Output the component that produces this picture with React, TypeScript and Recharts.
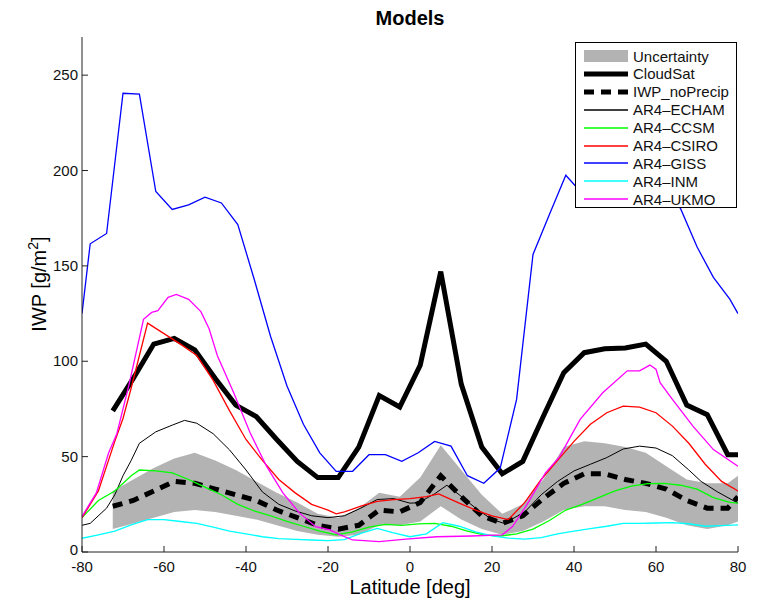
import React from "react";
import { Area, ComposedChart, Line, XAxis, YAxis } from "recharts";

// CloudSat 5-degree latitude bins (+ edge point at 80)
const binLat = [-72.5, -67.5, -62.5, -57.5, -52.5, -47.5, -42.5, -37.5, -32.5, -27.5, -22.5, -17.5, -12.5, -7.5, -2.5, 2.5, 7.5, 12.5, 17.5, 22.5, 27.5, 32.5, 37.5, 42.5, 47.5, 52.5, 57.5, 62.5, 67.5, 72.5, 77.5, 80];
const cloudSat = [74, 91, 109, 112, 106, 91, 77, 71, 59, 47.5, 39, 39, 55, 82, 76, 98, 147, 88, 55, 41, 47.5, 71, 94, 104.5, 106.5, 107, 109, 100, 77, 72, 51, 51];
const noPrecip = [24, 27, 32, 37, 36, 33, 30, 27, 22, 18, 14, 12, 14, 22, 21, 26, 40, 29, 19, 15, 19, 28, 36, 41, 41, 38, 36, 33, 27, 23, 23, 29];
const bandLo = [12, 15, 18, 21, 22, 21, 19, 17, 14, 11, 9, 8, 9, 14, 14, 16, 24, 17, 12, 9, 11, 16, 22, 24, 24, 22, 21, 18, 14, 12, 14, 16];
const bandHi = [32, 38, 44, 49, 52, 48, 43, 37, 31, 26, 20, 18, 23, 31, 29, 39, 56, 43, 30, 20, 25, 38, 55, 58, 57, 55, 52, 45, 38, 36, 36, 40];

const echamLat = [-80, -78, -74, -72, -70, -68, -66, -62, -58, -55, -52, -48, -44, -40, -36, -32, -28, -24, -20, -16, -12, -8, -4, 0, 2, 6, 9, 12, 16, 20, 23, 28, 32, 36, 40, 44, 48, 52, 56, 60, 64, 68, 71, 75, 80];
const echamIwp = [14, 15, 23, 30, 40, 48, 57, 63, 66.5, 69, 67.5, 62, 53.5, 43, 31.5, 25, 21.5, 19, 18, 19, 23, 27.5, 28, 25.6, 25.8, 30.5, 35, 30, 23, 17, 15, 21, 30, 37, 42.5, 46, 49.5, 54, 55.5, 54.5, 50.5, 43, 37, 31.5, 25.6];

const ccsmLat = [-80, -76, -72, -68, -66, -62, -58, -54, -50, -46, -42, -38, -34, -30, -26, -22, -18, -14, -10, -6, -2, 2, 6, 10, 14, 18, 22, 26, 30, 34, 38, 42, 46, 50, 54, 58, 62, 66, 70, 74, 78, 80];
const ccsmIwp = [18, 27, 32, 40, 43, 42.5, 41.5, 38, 34, 30, 25, 21.5, 19, 16, 13.5, 11, 9, 10.5, 13, 14.5, 14, 14.7, 15, 13.5, 11, 9, 8.4, 9.5, 12, 16.5, 22, 25, 28.5, 32, 34.5, 35.8, 36, 35, 33, 28.5, 26, 25.6];

const csiroLat = [-80, -76, -74, -72, -70, -68, -64, -60, -56, -52, -48, -44, -40, -36, -32, -28, -24, -20, -18, -16, -12, -8, -4, 0, 4, 7, 12, 16, 20, 24, 28, 32, 36, 40, 44, 48, 52, 56, 60, 64, 68, 72, 76, 80];
const csiroIwp = [18, 32, 45, 58, 70, 86, 120, 114.5, 109, 103, 90, 74, 59, 48, 38, 31, 25, 22, 20, 21, 24, 26.5, 27.5, 28, 29, 30.5, 25.6, 22, 19, 17, 26, 38, 48, 58, 67, 73, 76.5, 76, 73, 66, 57, 46, 37, 32];

const gissLat = [-80, -78, -74, -70, -66, -62, -58, -54, -50, -46, -42, -38, -34, -30, -26, -22, -18, -14, -10, -6, -2, 2, 6, 10, 14, 18, 22, 26, 30, 34, 38, 42, 46, 50, 54, 58, 62, 66, 70, 74, 78, 80];
const gissIwp = [125, 161.6, 167, 240.5, 240, 189, 179.6, 182, 186, 183, 171.7, 143, 113, 87, 67, 52, 42.3, 42.3, 51, 51, 47.5, 52, 58, 55.5, 40, 36, 44, 80, 156, 177, 197.5, 188, 190, 195, 198, 195, 190, 180, 160, 144, 132.6, 125];

const inmLat = [-80, -76, -72, -68, -64, -60, -56, -52, -48, -44, -40, -36, -32, -28, -24, -20, -16, -12, -8, -4, 0, 4, 8, 12, 16, 20, 24, 28, 32, 36, 40, 44, 48, 52, 56, 60, 64, 68, 72, 76, 80];
const inmIwp = [7.2, 9, 11, 14.2, 17, 17, 16, 15, 13, 11, 9.5, 8, 7, 6.6, 6.3, 6, 6.5, 9.8, 12.4, 10, 8, 9.5, 15.4, 13.5, 10.5, 8.5, 7.3, 6.7, 7.5, 9.5, 11, 12.2, 13.5, 15, 15, 15.2, 15.4, 14.8, 13.5, 13.8, 14.2];

const ukmoLat = [-80, -76.5, -73.5, -71.5, -68.5, -65, -63, -61.5, -59, -57, -54, -51, -49, -47, -43, -39, -35, -31, -27, -23, -19.5, -17, -14, -7.5, -1, 6.5, 15, 22.5, 25, 28.5, 33, 36.5, 39, 41.5, 47, 53, 56, 58.5, 60, 61, 64, 69, 74, 80];
const ukmoIwp = [18.6, 31, 52, 62, 88, 122, 125.6, 126.5, 133.5, 135, 132.5, 126, 117, 103, 83.5, 62.5, 45, 31, 20.5, 13.3, 11.6, 9, 6.3, 5.4, 6.7, 8, 8.4, 9, 13.3, 24.7, 41.4, 50, 59.8, 69.5, 83.5, 95, 95, 98, 95.8, 88.8, 80, 66, 53.7, 45];

const xTicks = [-80, -60, -40, -20, 0, 20, 40, 60, 80];
const yTicks = [0, 50, 100, 150, 200, 250];

const pts = (lat: number[], v: number[]) => lat.map((l, i) => ({ lat: l, v: v[i] }));

const bandData = binLat.map((lat, i) => ({
  lat,
  range: [bandLo[i], bandHi[i]],
  cs: cloudSat[i],
  np: noPrecip[i],
}));

const models = [
  { name: "AR4\u2013ECHAM", color: "#000000", lat: echamLat, iwp: echamIwp, w: 1 },
  { name: "AR4\u2013CCSM", color: "#00ff00", lat: ccsmLat, iwp: ccsmIwp, w: 1.3 },
  { name: "AR4\u2013CSIRO", color: "#ff0000", lat: csiroLat, iwp: csiroIwp, w: 1.3 },
  { name: "AR4\u2013GISS", color: "#0000ff", lat: gissLat, iwp: gissIwp, w: 1.3 },
  { name: "AR4\u2013INM", color: "#00ffff", lat: inmLat, iwp: inmIwp, w: 1.3 },
  { name: "AR4\u2013UKMO", color: "#ff00ff", lat: ukmoLat, iwp: ukmoIwp, w: 1.3 },
];

const AX = "#222";
const TICK = 6;

const BottomTick = (p: any) => (
  <g>
    <line x1={p.x} y1={p.y} x2={p.x} y2={p.y - TICK} stroke={AX} />
    <text x={p.x} y={p.y + 20} textAnchor="middle" fontSize={15} fill="#111">
      {p.payload.value}
    </text>
  </g>
);
const LeftTick = (p: any) => (
  <g>
    <line x1={p.x} y1={p.y} x2={p.x + TICK} y2={p.y} stroke={AX} />
    <text x={p.x - 4} y={p.y + (p.payload.value === 0 ? 3 : 5)} textAnchor="end" fontSize={15} fill="#111">
      {p.payload.value}
    </text>
  </g>
);
const TopTick = (p: any) => <line x1={p.x} y1={p.y} x2={p.x} y2={p.y + TICK} stroke={AX} />;
const RightTick = (p: any) => <line x1={p.x} y1={p.y} x2={p.x - TICK} y2={p.y} stroke={AX} />;

const legendRows = [
  { name: "Uncertainty", kind: "patch" },
  { name: "CloudSat", kind: "thick" },
  { name: "IWP_noPrecip", kind: "dash" },
  ...models.map((m) => ({ name: m.name, kind: "line", color: m.color })),
];

function LegendBox() {
  return (
    <div
      style={{
        position: "absolute",
        left: 567,
        top: 34,
        width: 162,
        height: 166,
        boxSizing: "border-box",
        border: "1px solid #000",
        background: "#fff",
      }}
    >
      {legendRows.map((r: any, i) => (
        <div
          key={r.name}
          style={{ position: "absolute", left: 0, top: 4 + i * 17.9, height: 18, display: "flex", alignItems: "center" }}
        >
          <svg width={44} height={16} style={{ marginLeft: 8 }}>
            {r.kind === "patch" && <rect x={0} y={2} width={44} height={12} fill="#b3b3b3" />}
            {r.kind === "thick" && <line x1={0} y1={8} x2={44} y2={8} stroke="#000" strokeWidth={5} />}
            {r.kind === "dash" && (
              <line x1={0} y1={8} x2={44} y2={8} stroke="#000" strokeWidth={5} strokeDasharray="10 7" />
            )}
            {r.kind === "line" && <line x1={0} y1={8} x2={44} y2={8} stroke={r.color} strokeWidth={1.3} />}
          </svg>
          <span style={{ marginLeft: 5, fontSize: 15, color: "#111", whiteSpace: "nowrap" }}>{r.name}</span>
        </div>
      ))}
    </div>
  );
}

export default function App() {
  return (
    <div
      style={{
        position: "relative",
        width: 745,
        height: 590,
        fontFamily: "'Liberation Sans', Arial, sans-serif",
        background: "#fff",
      }}
    >
      <ComposedChart width={745} height={590} data={bandData} margin={{ top: 29, right: 15, bottom: 6, left: 14 }}>
        <XAxis
          dataKey="lat"
          type="number"
          domain={[-80, 80]}
          ticks={xTicks}
          interval={0}
          height={40}
          tickSize={0}
          tickMargin={0}
          tickLine={false}
          axisLine={{ stroke: AX }}
          tick={BottomTick}
          allowDataOverflow
        />
        <XAxis
          xAxisId="top"
          orientation="top"
          dataKey="lat"
          type="number"
          domain={[-80, 80]}
          ticks={xTicks}
          interval={0}
          height={0}
          tickSize={0}
          tickMargin={0}
          tickLine={false}
          axisLine={{ stroke: AX }}
          tick={TopTick}
          allowDataOverflow
        />
        <YAxis
          type="number"
          domain={[0, 270]}
          ticks={yTicks}
          interval={0}
          width={60}
          tickSize={0}
          tickMargin={0}
          tickLine={false}
          axisLine={{ stroke: AX }}
          tick={LeftTick}
          allowDataOverflow
        />
        <YAxis
          yAxisId="right"
          orientation="right"
          type="number"
          domain={[0, 270]}
          ticks={yTicks}
          interval={0}
          width={0}
          tickSize={0}
          tickMargin={0}
          tickLine={false}
          axisLine={{ stroke: AX }}
          tick={RightTick}
          allowDataOverflow
        />
        <Area
          dataKey="range"
          type="linear"
          stroke="none"
          fill="#b3b3b3"
          fillOpacity={1}
          isAnimationActive={false}
          activeDot={false}
        />
        <Line dataKey="cs" type="linear" stroke="#000" strokeWidth={5} dot={false} isAnimationActive={false} />
        <Line
          dataKey="np"
          type="linear"
          stroke="#000"
          strokeWidth={5}
          strokeDasharray="10 7"
          dot={false}
          isAnimationActive={false}
        />
        {models.map((m) => (
          <Line
            key={m.name}
            data={pts(m.lat, m.iwp)}
            dataKey="v"
            type="linear"
            stroke={m.color}
            strokeWidth={m.w}
            dot={false}
            isAnimationActive={false}
          />
        ))}
      </ComposedChart>
      <div
        style={{ position: "absolute", left: 302, top: -1, width: 200, textAlign: "center", fontSize: 20, fontWeight: "bold", lineHeight: "22px" }}
      >
        Models
      </div>
      <div
        style={{ position: "absolute", left: 252, top: 569, width: 300, textAlign: "center", fontSize: 20, lineHeight: "20px" }}
      >
        Latitude [deg]
      </div>
      <div
        style={{
          position: "absolute",
          left: 25 - 100,
          top: 276 - 12,
          width: 200,
          height: 24,
          textAlign: "center",
          fontSize: 20,
          lineHeight: "24px",
          transform: "rotate(-90deg)",
          whiteSpace: "nowrap",
        }}
      >
        IWP [g/m<sup style={{ fontSize: 14 }}>2</sup>]
      </div>
      <LegendBox />
    </div>
  );
}
